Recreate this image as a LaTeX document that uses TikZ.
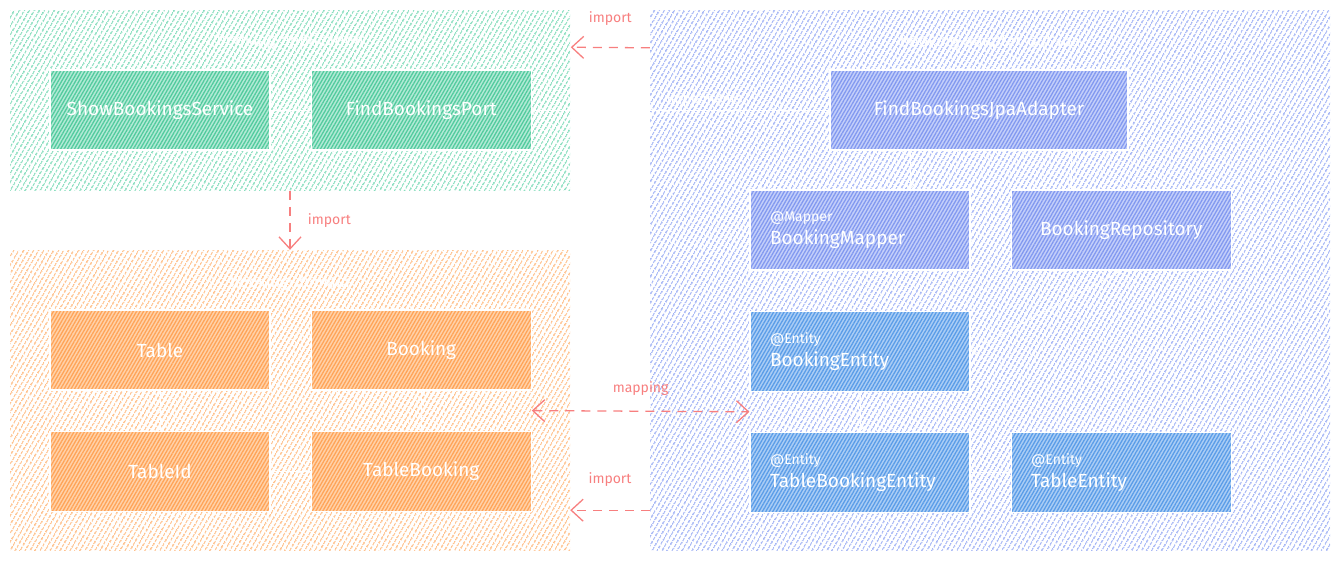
\documentclass[tikz,border=0pt]{standalone}
\usepackage{fontspec}
\setmainfont{Fira Sans}
\usetikzlibrary{positioning,calc,arrows.meta,patterns.meta}

\definecolor{appline}{HTML}{86DDBD}
\definecolor{appfill}{HTML}{B3EAD6}
\definecolor{appdark}{HTML}{52CB9E}
\definecolor{domline}{HTML}{FFC08A}
\definecolor{domfill}{HTML}{FFD2AA}
\definecolor{domdark}{HTML}{FFA458}
\definecolor{jpaline}{HTML}{A3B4F5}
\definecolor{jpafill}{HTML}{C4CFFA}
\definecolor{jpadark}{HTML}{8299F0}
\definecolor{entfill}{HTML}{ABCDF5}
\definecolor{entdark}{HTML}{5A9DE8}
\definecolor{depred}{HTML}{F77F7F}

\begin{document}
\begin{tikzpicture}[x=1pt, y=-1pt, node distance=40pt,
    pkg/.style={rectangle, draw=none, inner sep=0pt, pattern={Lines[angle=60,distance=4pt,line width=1.5pt]}},
    title/.style={text=white, font=\fontsize{16}{18}\selectfont},
    block/.style={rectangle, draw=white, line width=1.2pt, minimum width=220pt, minimum height=80pt,
        text=white, font=\fontsize{19}{23}\selectfont, pattern={Lines[angle=60,distance=3pt,line width=1.3pt]}},
    appblock/.style={block, preaction={fill=appfill}, pattern color=appdark},
    domblock/.style={block, preaction={fill=domfill}, pattern color=domdark},
    jpablock/.style={block, preaction={fill=jpafill}, pattern color=jpadark},
    entblock/.style={block, preaction={fill=entfill}, pattern color=entdark},
    tagged/.style={align=left, text width=180pt, inner xsep=20pt},
    arrow/.style={draw=white, line width=0.9pt, -{Straight Barb[length=5pt,width=9pt]}},
    dep/.style={draw=depred, line width=1.3pt, dash pattern=on 9pt off 7pt, -{Straight Barb[length=12pt,width=22pt]}},
    deplabel/.style={text=depred, font=\fontsize{14}{16}\selectfont}]

    \useasboundingbox (0,0) rectangle (1340,560);

    % packages
    \node[pkg, pattern color=appline, minimum width=560pt, minimum height=180pt] (app) at (290,100) {};
    \node[pkg, pattern color=domline, minimum width=560pt, minimum height=300pt] (domain) at (290,400) {};
    \node[pkg, pattern color=jpaline, minimum width=680pt, minimum height=540pt] (jpa) at (990,280) {};
    \node[title] (apptitle) at ([yshift=-32pt]app.north) {booking-application};
    \node[title] (domtitle) at ([yshift=-33pt]domain.north) {booking-domain};
    \node[title] (jpatitle) at ([yshift=-32pt]jpa.north) {booking-adapter-out-jpa};

    % booking-application
    \node[appblock] (show) at (160,110) {ShowBookingsService};
    \node[appblock, right=of show] (port) {FindBookingsPort};

    % booking-domain
    \node[domblock] (table) at (160,350) {Table};
    \node[domblock, right=of table] (booking) {Booking};
    \node[domblock, below=of table] (tableid) {TableId};
    \node[domblock, below=of booking] (tablebooking) {TableBooking};

    % booking-adapter-out-jpa
    \node[jpablock, minimum width=298pt] (adapter) at (979,110) {FindBookingsJpaAdapter};
    \node[jpablock, tagged] (mapper) at (860,230) {{\fontsize{14}{17}\selectfont @Mapper}\\BookingMapper};
    \node[jpablock, right=of mapper] (repo) {BookingRepository};
    \node[entblock, tagged, below=of mapper] (entity) {{\fontsize{14}{17}\selectfont @Entity}\\BookingEntity};
    \node[entblock, tagged, below=of entity] (tbentity) {{\fontsize{14}{17}\selectfont @Entity}\\TableBookingEntity};
    \node[entblock, tagged, right=of tbentity] (tentity) {{\fontsize{14}{17}\selectfont @Entity}\\TableEntity};

    % inner arrows
    \draw[arrow] (show) -- (port);
    \draw[arrow] (table) -- (tableid);
    \draw[arrow] (booking) -- (tablebooking);
    \draw[arrow] (tablebooking) -- (tableid);
    \draw[arrow] (adapter.west) -- node[pos=0.42, above, text=white, font=\fontsize{14}{16}\selectfont] (impl) {implements} (port.east);
    \coordinate (tomapper) at ($(adapter.south west)!0.27!(adapter.south east)$);
    \coordinate (torepo) at ($(adapter.south west)!0.81!(adapter.south east)$);
    \draw[arrow] (tomapper) -- (tomapper |- mapper.north);
    \draw[arrow] (torepo) -- (torepo |- repo.north);
    \draw[arrow] (repo.south) -- (entity.east);
    \draw[arrow] (entity) -- (tbentity);
    \draw[arrow] (tbentity) -- (tentity);

    % package dependencies
    \draw[dep] ([yshift=-38pt]jpa.north west) -- node[deplabel, above=18pt] (imp1) {import} ([yshift=-38pt]app.north east);
    \draw[dep] (app.south) -- node[deplabel, right=14pt] (imp2) {import} (domain.north);
    \draw[dep] ([yshift=40pt]jpa.south west) -- node[deplabel, above=20pt] (imp3) {import} ([yshift=40pt]domain.south east);
    \coordinate (mapl) at ($(booking.south east)!0.5!(tablebooking.north east)$);
    \coordinate (mapr) at ($(entity.south west)!0.5!(tbentity.north west)$);
    \draw[dep, {Straight Barb[length=12pt,width=22pt]}-{Straight Barb[length=12pt,width=22pt]}] (mapl) -- node[deplabel, above=12pt] (maplbl) {mapping} (mapr);

\end{tikzpicture}
\end{document}
